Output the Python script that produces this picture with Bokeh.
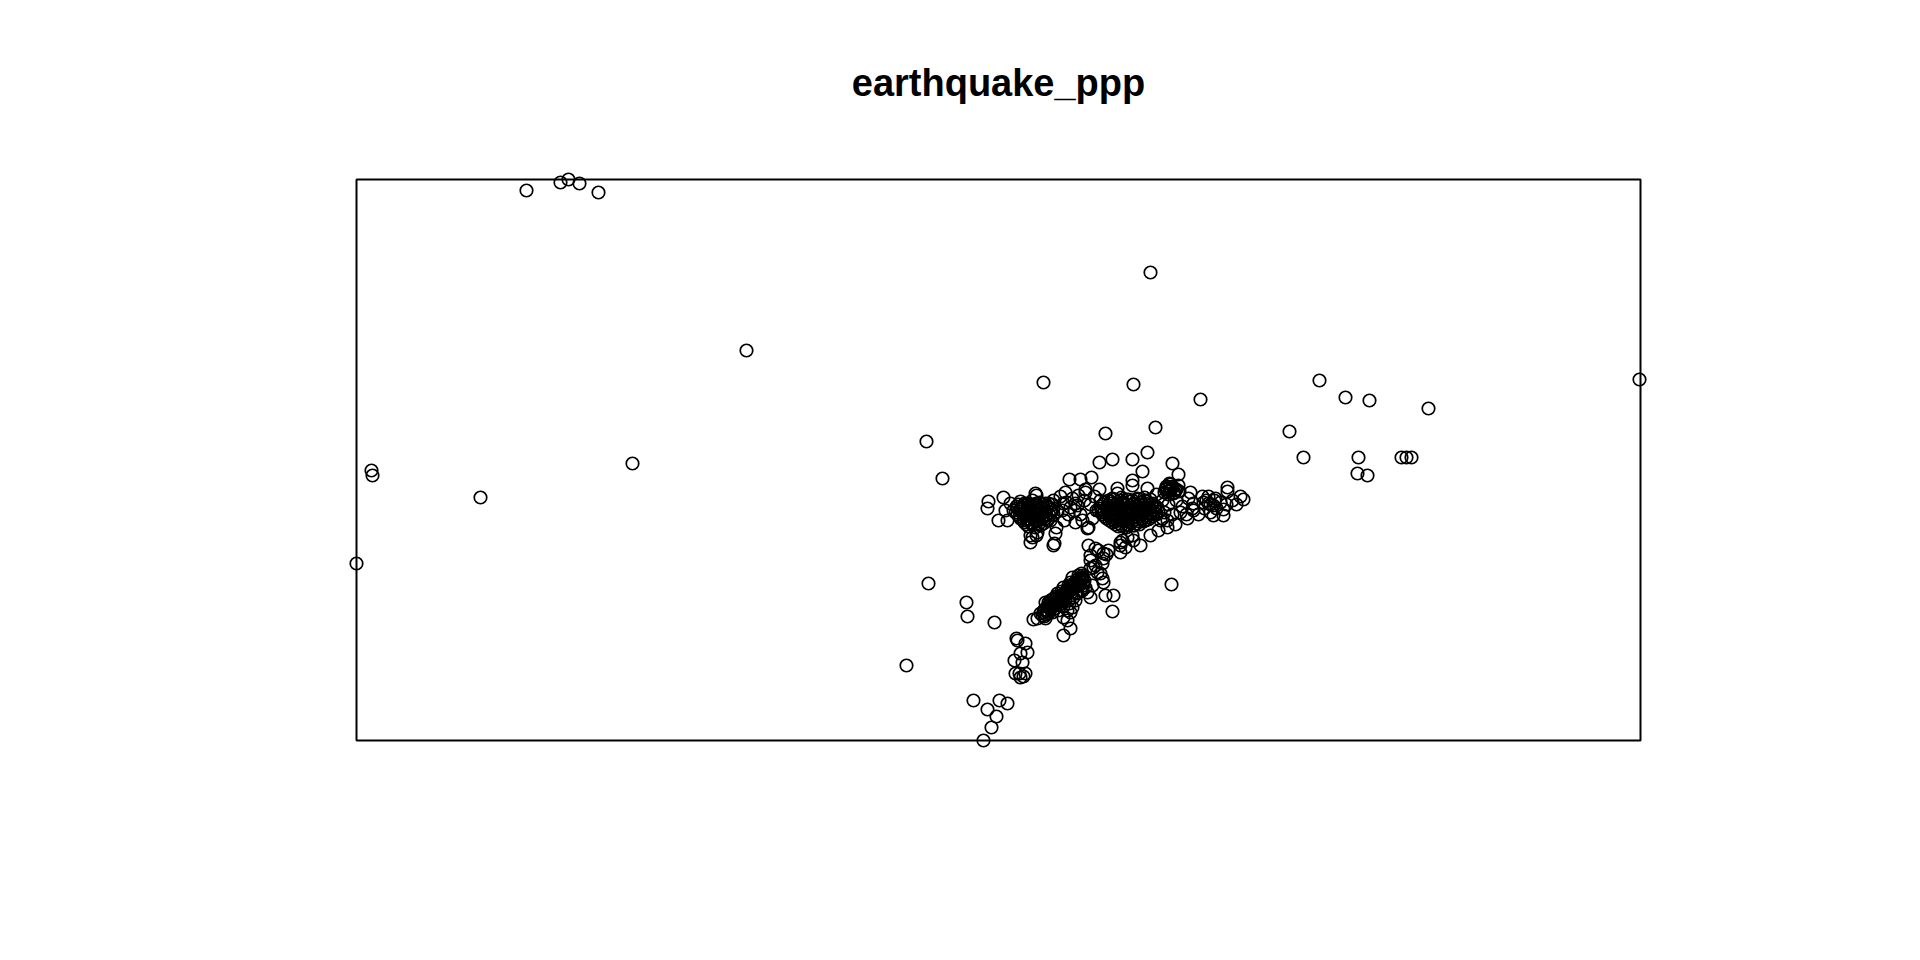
from bokeh.plotting import figure
from bokeh.models import Range1d
from bokeh.embed import file_html
from bokeh.resources import INLINE

# Observation window of the point pattern (arbitrary map units)
window_x = [0, 1284]
window_y = [0, 561]

# Scattered (outlying) events
outer_x = [170, 204, 212, 223, 242, 794, 390, 687, 777, 844, 963, 989, 1013, 1072, 1283,
           933, 947, 1002, 1001, 1011, 1045, 1050, 1055, 570, 586, 276, 124, 15, 16, 0,
           749, 799, 572, 815, 610, 611, 638, 550]
outer_y = [550, 558, 561, 557, 548, 468, 390, 358, 356, 341, 360, 343, 340, 332, 361,
           309, 283, 283, 267, 265, 283, 283, 283, 299, 262, 277, 243, 270, 265, 177,
           307, 313, 157, 156, 138, 124, 118, 75]

# Southern tail
tail_x = [617, 631, 643, 651, 640, 635, 627, 658, 666, 659, 663, 669, 664, 661, 669, 671, 664, 660, 667]
tail_y = [40, 31, 40, 37, 24, 13, 0, 80, 78, 67, 67, 67, 63, 100, 97, 88, 87, 102, 64]

# Diagonal (SW-NE) cluster
diag_x = [697, 674, 732, 742, 750, 764, 764, 777, 784, 734, 739, 746, 747, 744, 746, 747, 749, 757, 756, 731,
          677, 711, 714, 707, 694, 689,
          726, 722, 727, 721, 717, 714, 711, 707, 704, 701, 697, 694, 691, 687, 686, 689, 714, 707, 701, 697,
          692, 712, 717, 721, 724, 729, 716, 711,
          718, 712, 705, 700, 695, 720, 715, 709, 703, 698, 724, 726, 728, 710, 706, 693, 688, 690, 684, 719,
          713, 707, 702, 722, 725,
          681, 714, 707, 736, 734, 741, 737, 734, 716, 726, 734,
          723, 719, 715, 709, 705, 699, 696, 692, 727, 725,
          725, 721, 718, 714, 711, 708, 704, 700, 697, 694, 690, 688, 720, 716, 712, 705, 699, 695, 691]
diag_y = [195, 198, 195, 190, 186, 195, 188, 200, 195, 180, 175, 177, 182, 167, 162, 158, 145, 145, 129, 148,
          121, 120, 112, 105, 140, 138,
          163, 162, 158, 155, 152, 150, 147, 143, 142, 138, 137, 133, 130, 128, 125, 122, 158, 153, 147, 142,
          138, 140, 143, 147, 150, 153, 133, 130,
          157, 155, 149, 144, 140, 148, 145, 141, 136, 132, 156, 150, 160, 150, 146, 135, 131, 126, 127, 140,
          137, 134, 130, 165, 167,
          122, 128, 123, 155, 143, 168, 173, 185, 163, 165, 172,
          160, 153, 148, 145, 139, 135, 128, 127, 155, 162,
          161, 158, 154, 152, 149, 145, 140, 139, 135, 131, 129, 124, 160, 156, 152, 145, 141, 137, 134]

# East-west band
band_x = [791, 743, 756, 776, 786, 816, 822, 713, 724, 735, 729, 743, 776, 776, 791,
          814, 810, 818, 812, 816, 820, 808, 813, 814, 822, 810,
          834, 871, 871, 887, 632, 631, 647, 642, 649, 680, 697, 709, 721, 731, 719, 700, 674, 680,
          764, 776, 794, 802, 811, 819, 831, 837, 847, 857, 867, 857,
          852, 859, 864, 867, 837, 804, 811, 771, 769,
          729, 761, 761, 654, 679, 699, 698, 676, 681, 707, 719, 732, 739, 747, 752, 766, 651,
          704, 710, 716, 706, 712, 718, 724, 728, 734, 740, 726, 736, 744, 708, 714, 722, 738,
          806, 812, 820, 826, 832, 824, 836, 842, 848, 854, 860, 870, 876, 880, 884, 846, 816, 830, 800, 808,
          850, 854, 858, 852,
          815, 811, 819, 817, 813, 809, 823, 796, 801, 806]
band_y = [288, 278, 281, 281, 269, 277, 266, 261, 261, 263, 251, 251, 260, 255, 252,
          250, 252, 248, 246, 254, 251, 248, 257, 256, 255, 254,
          248, 253, 249, 241, 239, 232, 243, 220, 230, 245, 240, 248, 235, 212, 218, 213, 205, 205,
          198, 205, 205, 210, 220, 216, 222, 237, 238, 235, 231, 225,
          237, 242, 238, 225, 230, 220, 213, 203, 193,
          248, 252, 247, 237, 247, 207, 197, 203, 208, 237, 237, 213, 192, 187, 190, 200, 220,
          244, 238, 242, 230, 226, 230, 226, 240, 236, 230, 220, 222, 240, 220, 233, 245, 244,
          240, 236, 240, 234, 242, 228, 232, 226, 232, 228, 232, 236, 240, 236, 244, 244, 226, 226, 246, 228,
          240, 236, 240, 244,
          252, 249, 250, 247, 253, 251, 249, 226, 233, 222]

# Dense western knot of the band
west_x = [664, 671, 676, 683, 689, 660, 667, 672, 679, 684, 691, 696,
          657, 664, 669, 677, 682, 688, 695, 701, 661, 666, 673, 678, 685, 690, 697,
          664, 671, 676, 682, 689, 694, 668, 675, 680, 687, 672, 679, 684,
          667, 674, 681, 686, 670, 677, 684,
          662, 668, 674, 680, 686, 692, 661, 667, 673, 679, 685, 691, 697,
          659, 665, 671, 677, 683, 689, 695, 663, 669, 675, 681, 687, 693,
          667, 673, 679, 685, 691, 670, 676, 682]
west_y = [239, 237, 240, 238, 237, 234, 235, 233, 235, 233, 234, 236,
          230, 231, 229, 230, 231, 229, 231, 229, 226, 227, 225, 226, 227, 225, 226,
          222, 221, 223, 221, 222, 220, 218, 217, 219, 217, 214, 213, 215,
          232, 228, 233, 224, 220, 236, 230,
          236, 237, 236, 237, 236, 237, 232, 233, 232, 233, 232, 233, 232,
          228, 229, 228, 229, 228, 229, 228, 224, 225, 224, 225, 224, 225,
          220, 221, 220, 221, 220, 216, 217, 216]

# Dense central knot of the band
mid_x = [756, 765, 772, 781, 788, 748, 754, 761, 766, 773, 778, 785, 790, 796,
         744, 751, 756, 763, 768, 775, 780, 787, 792, 798,
         742, 748, 755, 760, 767, 772, 779, 784, 791, 796, 802,
         746, 753, 758, 765, 770, 777, 782, 789, 794, 800,
         750, 757, 762, 769, 774, 781, 786, 792, 756, 763, 768, 775, 780, 787, 762, 770, 778,
         759, 770, 783, 752, 776, 765,
         752, 758, 764, 770, 776, 782, 788, 794,
         747, 753, 759, 765, 771, 777, 783, 789, 795,
         745, 751, 757, 763, 769, 775, 781, 787, 793, 799,
         745, 751, 757, 763, 769, 775, 781, 787, 793, 799,
         748, 754, 760, 766, 772, 778, 784, 790, 796,
         753, 759, 765, 771, 777, 783, 789, 759, 765, 771, 777, 783]
mid_y = [242, 243, 241, 242, 243, 238, 239, 237, 238, 239, 237, 238, 239, 237,
         234, 235, 233, 234, 235, 233, 234, 235, 233, 234,
         230, 229, 231, 230, 229, 231, 230, 229, 231, 230, 229,
         226, 225, 227, 226, 225, 227, 226, 225, 227, 226,
         222, 221, 223, 222, 221, 223, 222, 221, 218, 217, 219, 218, 217, 219, 214, 213, 215,
         232, 228, 232, 228, 236, 220,
         240, 241, 240, 241, 240, 241, 240, 241,
         236, 237, 236, 237, 236, 237, 236, 237, 236,
         232, 233, 232, 233, 232, 233, 232, 233, 232, 233,
         228, 227, 228, 227, 228, 227, 228, 227, 228, 227,
         224, 223, 224, 223, 224, 223, 224, 223, 224,
         220, 219, 220, 219, 220, 219, 220, 216, 215, 216, 215, 216]

xs = outer_x + tail_x + diag_x + band_x + west_x + mid_x
ys = outer_y + tail_y + diag_y + band_y + west_y + mid_y

p = figure(width=1904, height=944,
           x_range=Range1d(-20, 1304), y_range=Range1d(-20, 581),
           output_backend="svg", toolbar_location=None,
           min_border_left=336, min_border_right=244,
           min_border_top=159, min_border_bottom=184)

p.title.text = "earthquake_ppp"
p.title.align = "center"
p.title.text_font = "Liberation Sans"
p.title.text_font_style = "bold"
p.title.text_font_size = "38px"
p.title.text_color = "black"
p.title.standoff = 111

p.axis.visible = False
p.grid.visible = False
p.outline_line_color = None
p.background_fill_color = "white"
p.border_fill_color = "white"

p.quad(left=[window_x[0]], right=[window_x[1]], bottom=[window_y[0]], top=[window_y[1]],
       fill_color=None, line_color="black", line_width=2)

p.scatter(xs, ys, marker="circle", size=12.5, fill_color=None,
          line_color="black", line_width=1.7)

open("out.html", "w").write(file_html(p, INLINE))
